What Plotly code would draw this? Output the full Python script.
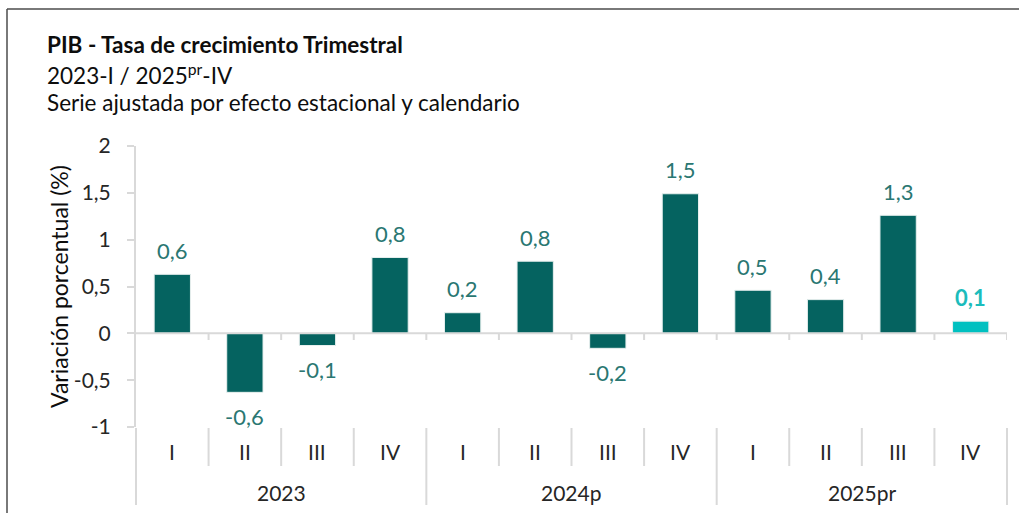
import plotly.graph_objects as go

# Quarterly GDP growth, seasonally and calendar adjusted (%)
years = ["2023", "2024p", "2025pr"]
quarters = ["I", "II", "III", "IV"]
growth = [0.63, -0.63, -0.13, 0.81,
          0.22, 0.77, -0.16, 1.49,
          0.46, 0.36, 1.26, 0.13]
y_ticks = [-1, -0.5, 0, 0.5, 1, 1.5, 2]
y_tick_text = ["-1", "-0,5", "0", "0,5", "1", "1,5", "2"]

DARK = "#056360"
DARK_TXT = "#2a7772"
LIGHT = "#00c0c0"
LIGHT_TXT = "#1cbcbc"
AXIS = "#d9d9d9"
INK = "#262626"
FONT = "Lato"

W, H = 1019, 513
L, R, T, B = 136, 12, 146, 86
PW, PH = W - L - R, H - T - B
n = len(growth)


def px_x(px):
    return (px - L) / PW


def px_y(py):
    return (H - B - py) / PH


def fmt(v):
    return f"{v:.1f}".replace(".", ",")


xs = list(range(n))
colors = [DARK] * (n - 1) + [LIGHT]

fig = go.Figure(go.Bar(
    x=xs, y=growth, width=0.5,
    marker=dict(color=colors, line=dict(color="#e8f0ef", width=1)),
    hoverinfo="skip",
))

shapes = []
annotations = []

# zero line with small ticks at category boundaries
shapes.append(dict(type="line", xref="x", yref="y", x0=-0.5, x1=n - 0.5,
                   y0=0, y1=0, line=dict(color=AXIS, width=2)))
for k in range(1, n + 1):
    shapes.append(dict(type="line", xref="x", yref="paper",
                       x0=k - 0.5, x1=k - 0.5,
                       y0=px_y(333), y1=px_y(340), line=dict(color=AXIS, width=2)))

# category separators below the plot area
for k in range(n + 1):
    bottom = 505 if k % 4 == 0 else 466
    shapes.append(dict(type="line", xref="paper", yref="paper",
                       x0=k / n, x1=k / n, y0=px_y(428), y1=px_y(bottom),
                       line=dict(color=AXIS, width=2)))

# outer frame (top and left edges)
shapes.append(dict(type="line", xref="paper", yref="paper",
                   x0=px_x(7), x1=px_x(W + 5), y0=px_y(9), y1=px_y(9),
                   line=dict(color="#4d4d4d", width=1.5)))
shapes.append(dict(type="line", xref="paper", yref="paper",
                   x0=px_x(7), x1=px_x(7), y0=px_y(9), y1=px_y(H + 5),
                   line=dict(color="#4d4d4d", width=1.5)))

# value labels
for i, v in enumerate(growth):
    last = i == n - 1
    annotations.append(dict(
        x=i, y=v, xref="x", yref="y", showarrow=False,
        xanchor="center", yanchor="middle", borderpad=0,
        text=f"<b>{fmt(v)}</b>" if last else fmt(v),
        yshift=24 if v >= 0 else -24,
        font=dict(family=FONT, size=22, color=LIGHT_TXT if last else DARK_TXT),
    ))

# quarter and year labels
for yi, yr in enumerate(years):
    for qi, q in enumerate(quarters):
        annotations.append(dict(
            x=yi * 4 + qi, y=px_y(451), xref="x", yref="paper", showarrow=False,
            xanchor="center", yanchor="middle", borderpad=0,
            text=q, font=dict(family=FONT, size=21, color=INK),
        ))
    annotations.append(dict(
        x=yi * 4 + 1.5, y=px_y(492), xref="x", yref="paper", showarrow=False,
        xanchor="center", yanchor="middle", borderpad=0,
        text=yr, font=dict(family=FONT, size=21, color=INK),
    ))

# titles
title_lines = [
    ("<b>PIB - Tasa de crecimiento Trimestral</b>", 44),
    ("2023-I / 2025<sup>pr</sup>-IV", 74),
    ("Serie ajustada por efecto estacional y calendario", 102),
]
for txt, py in title_lines:
    annotations.append(dict(
        x=px_x(45), y=px_y(py), xref="paper", yref="paper", showarrow=False,
        xanchor="left", yanchor="middle", text=txt,
        font=dict(family=FONT, size=22.5, color="#0d0d0d"),
    ))

annotations.append(dict(
    x=px_x(59), y=px_y(287), xref="paper", yref="paper", showarrow=False,
    xanchor="center", yanchor="middle",
    textangle=-90, text="Variación porcentual (%)",
    font=dict(family=FONT, size=23, color="#0d0d0d"),
))

fig.update_layout(
    width=W, height=H, autosize=False,
    margin=dict(l=L, r=R, t=T, b=B),
    paper_bgcolor="white", plot_bgcolor="white",
    showlegend=False,
    shapes=shapes, annotations=annotations,
    xaxis=dict(range=[-0.5, n - 0.5], showticklabels=False, showline=False,
               showgrid=False, zeroline=False, ticks=""),
    yaxis=dict(range=[-1, 2], tickvals=y_ticks, ticktext=y_tick_text,
               showline=True, linecolor=AXIS, linewidth=2,
               ticks="outside", ticklen=7, tickcolor=AXIS, tickwidth=2,
               ticklabelstandoff=12,
               showgrid=False, zeroline=False,
               tickfont=dict(family=FONT, size=21, color=INK)),
)

fig.write_html("out.html")
